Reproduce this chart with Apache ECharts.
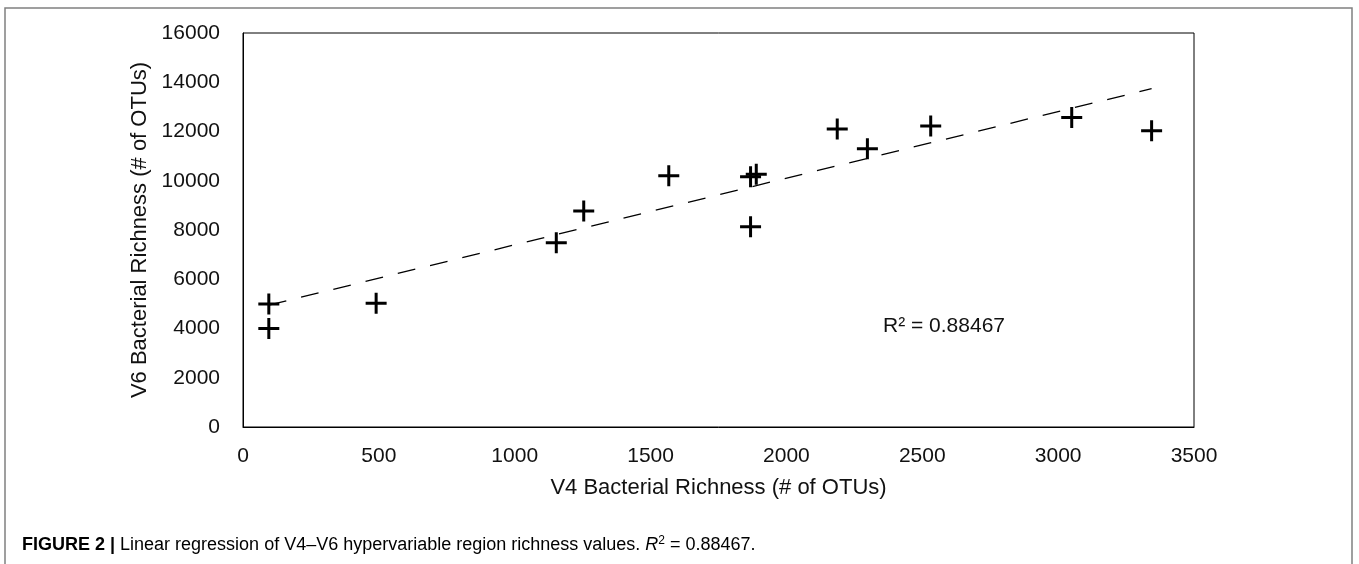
<!DOCTYPE html>
<html>
<head>
<meta charset="utf-8">
<script src="https://cdn.jsdelivr.net/npm/echarts@6/dist/echarts.min.js"></script>
<style>
html,body{margin:0;padding:0;background:#fff;}
#chart{width:1359px;height:564px;}
</style>
</head>
<body>
<div id="chart"></div>
<script>
// Data
const v4Richness = [95, 95, 490, 1153, 1254, 1567, 1868, 1889, 1868, 2187, 2298, 2531, 3050, 3344];
const v6Richness = [5000, 4000, 5030, 7480, 8770, 10200, 10160, 10260, 8130, 12100, 11300, 12220, 12570, 12030];
const trendV4 = [95, 3344];
const trendV6 = [4950, 13740];
const r2Label = 'R² = 0.88467';
const xAxisTitle = 'V4 Bacterial Richness (# of OTUs)';
const yAxisTitle = 'V6 Bacterial Richness (# of OTUs)';

const points = v4Richness.map((x, i) => [x, v6Richness[i]]);
const trend = trendV4.map((x, i) => [x, trendV6[i]]);

const FONT = '"Liberation Sans", Arial, Helvetica, sans-serif';
const CAPFONT = '"Liberation Sans", Arial, sans-serif';
const plusPath = 'path://M9,0H12V21H9ZM0,9H21V12H0Z';

const chart = echarts.init(document.getElementById('chart'), null, {renderer: 'canvas'});
chart.setOption({
  animation: false,
  backgroundColor: '#ffffff',
  grid: {
    left: 243, right: 165, top: 33, bottom: 137,
    show: true, borderColor: '#000', borderWidth: 1, backgroundColor: 'transparent'
  },
  xAxis: {
    type: 'value', min: 0, max: 3500, interval: 500,
    name: xAxisTitle, nameLocation: 'middle', nameGap: 50,
    nameTextStyle: {fontFamily: FONT, fontSize: 22, color: '#111'},
    axisLine: {show: true, lineStyle: {color: '#000', width: 1}},
    axisTick: {show: false},
    splitLine: {show: false},
    axisLabel: {margin: 19, fontFamily: FONT, fontSize: 21, color: '#111', formatter: v => String(v)}
  },
  yAxis: {
    type: 'value', min: 0, max: 16000, interval: 2000,
    name: yAxisTitle, nameLocation: 'middle', nameGap: 74,
    nameTextStyle: {fontFamily: FONT, fontSize: 22, color: '#111'},
    axisLine: {show: true, lineStyle: {color: '#000', width: 1}},
    axisTick: {show: false},
    splitLine: {show: false},
    axisLabel: {margin: 23, fontFamily: FONT, fontSize: 21, color: '#111', formatter: v => String(v)}
  },
  series: [
    {
      type: 'line', data: trend, symbol: 'none', silent: true, z: 1,
      lineStyle: {color: '#000', width: 1.3, type: [18, 15.2]}
    },
    {
      type: 'scatter', data: points, symbol: plusPath, symbolSize: 21, z: 2,
      itemStyle: {color: '#000', opacity: 1}
    }
  ],
  graphic: [
    {
      type: 'rect', silent: true, z: -1,
      shape: {x: 5, y: 8, width: 1347, height: 600},
      style: {fill: 'none', stroke: '#808080', lineWidth: 1.5}
    },
    {
      type: 'text', left: 883, top: 316, silent: true,
      style: {text: r2Label, font: '21px ' + FONT, fill: '#111'}
    },
    {
      type: 'text', left: 22, top: 535, silent: true,
      style: {
        text: '{b|FIGURE 2 |}{r| Linear regression of V4–V6 hypervariable region richness values. }{i|R}{s|2}{r| = 0.88467.}',
        rich: {
          b: {fontFamily: CAPFONT, fontSize: 18, fontWeight: 'bold', color: '#222'},
          r: {fontFamily: CAPFONT, fontSize: 18, color: '#444'},
          i: {fontFamily: CAPFONT, fontSize: 18, fontStyle: 'italic', color: '#444'},
          s: {fontFamily: CAPFONT, fontSize: 12, color: '#444', verticalAlign: 'top', padding: [0, 0, 8, 0]}
        }
      }
    }
  ]
});
</script>
</body>
</html>
